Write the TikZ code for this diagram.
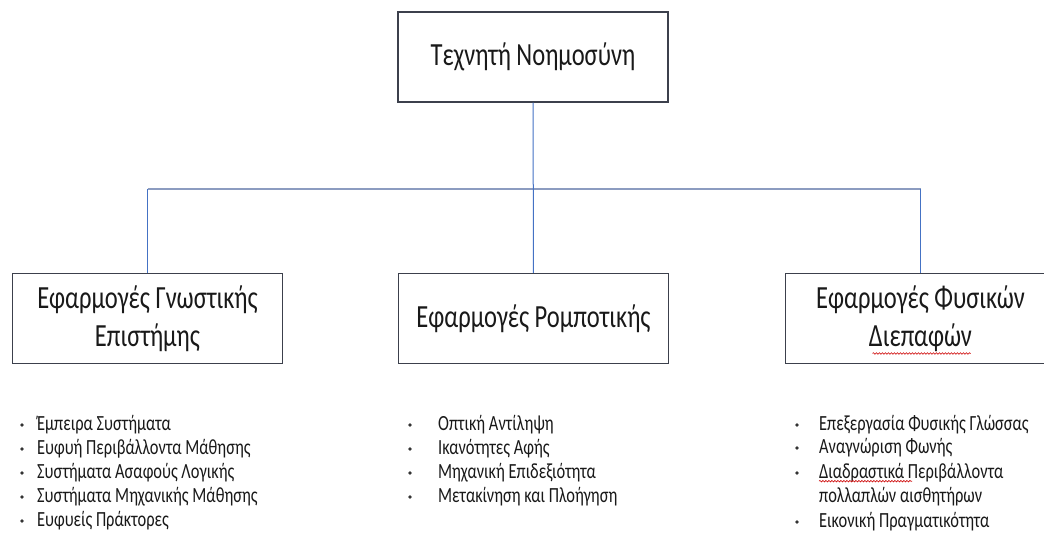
\documentclass[tikz,border=0pt]{standalone}
\usepackage{fontspec}
\setmainfont{Carlito}[FakeStretch=0.76]
\usetikzlibrary{decorations.pathmorphing}
\definecolor{linkblue}{RGB}{68,114,196}
\definecolor{barblue}{RGB}{140,156,192}
\definecolor{boxline}{RGB}{60,64,76}
\tikzset{
  boxnode/.style={draw=boxline, line width=1.4pt, minimum width=270pt, minimum height=90pt, align=center, inner sep=0pt, text=black!90, font=\fontsize{32.3}{38}\selectfont},
  itemnode/.style={anchor=west, inner sep=0pt, text height=15pt, text depth=5pt, text=black!90, font=\fontsize{21.6}{24}\selectfont},
  link/.style={linkblue, line width=1pt},
  spell/.style={red!80!black, line width=0.6pt, decorate, decoration={snake, amplitude=0.8pt, segment length=3pt}}
}

\begin{document}
\begin{tikzpicture}[x=1pt, y=-1pt]
\useasboundingbox (0,0) rectangle (1044,537);
\clip (0,0) rectangle (1044,537);
\node[boxnode] (ai) at (533,57) {Τεχνητή Νοημοσύνη};
\node[boxnode] (cog) at (147.5,318.5) {Εφαρμογές Γνωστικής\\Επιστήμης};
\node[boxnode] (rob) at (533.5,318.5) {Εφαρμογές Ρομποτικής};
\node[boxnode] (nat) at (920.5,318.5) {Εφαρμογές Φυσικών\\Διεπαφών};
\coordinate (bar) at (533.5,189);
\draw[barblue, line width=1.6pt] (cog.north |- bar) -- (nat.north |- bar);
\draw[link] (ai) -- (rob);
\draw[link] (cog.north |- bar) -- (cog);
\draw[link] (nat.north |- bar) -- (nat);
\path (nat.center) ++(-48,35) coordinate (typo1);
\draw[spell] (typo1) -- ++(98,0);
\foreach \t [count=\i] in {Έμπειρα Συστήματα, Ευφυή Περιβάλλοντα Μάθησης, Συστήματα Ασαφούς Λογικής, Συστήματα Μηχανικής Μάθησης, Ευφυείς Πράκτορες}{
	\node[itemnode] (cog\i) at (37,401+24*\i) {\t};
	\fill[black!80] (22,401+24*\i) circle[radius=1.8pt];
}
\foreach \t [count=\i] in {Οπτική Αντίληψη, Ικανότητες Αφής, Μηχανική Επιδεξιότητα, Μετακίνηση και Πλοήγηση}{
	\node[itemnode] (rob\i) at (438,401+24*\i) {\t};
	\fill[black!80] (410,401+24*\i) circle[radius=1.8pt];
}
\foreach \y/\t [count=\i] in {425/Επεξεργασία Φυσικής Γλώσσας, 448/Αναγνώριση Φωνής, 473/Διαδραστικά Περιβάλλοντα, 497/πολλαπλών αισθητήρων, 522/Εικονική Πραγματικότητα}{
	\node[itemnode] (nat\i) at (819,\y) {\t};
}
\foreach \y in {425,448,473,522}{
	\fill[black!80] (797,\y) circle[radius=1.8pt];
}
\path (nat3.south west) ++(0,-2) coordinate (typo2);
\draw[spell] (typo2) -- ++(93,0);
\end{tikzpicture}
\end{document}
